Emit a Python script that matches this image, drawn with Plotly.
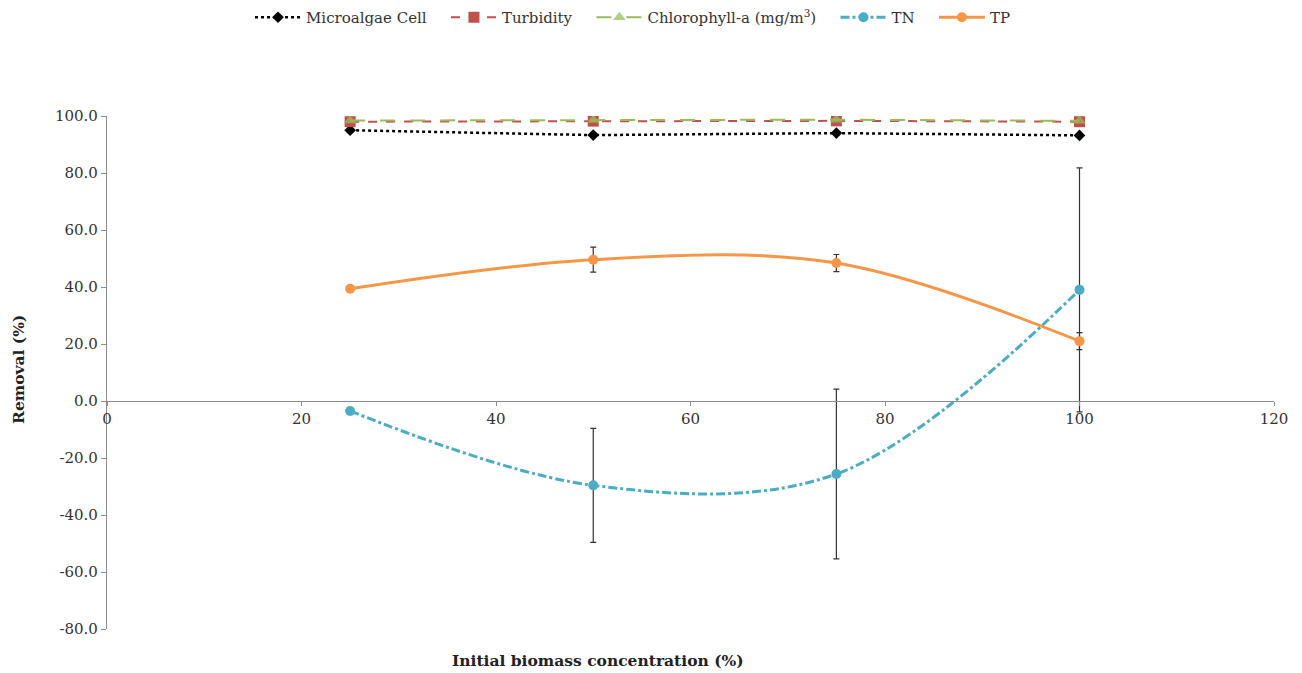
import plotly.graph_objects as go

# Initial biomass concentration (%)
biomass = [25, 50, 75, 100]

# Removal (%) per parameter
microalgae_cell = [95.0, 93.3, 94.0, 93.2]
turbidity = [98.0, 98.2, 98.3, 98.0]
chlorophyll_a = [98.4, 98.6, 98.7, 98.3]
tn = [-3.5, -29.6, -25.6, 39.0]
tn_err = [0.5, 20.0, 29.8, 42.8]
tp = [39.4, 49.6, 48.4, 21.0]
tp_err = [0.8, 4.4, 3.0, 3.0]

y_ticks = [-80, -60, -40, -20, 0, 20, 40, 60, 80, 100]
x_ticks = [0, 20, 40, 60, 80, 100, 120]

FONT = "DejaVu Serif"
PAD = "\u00a0" * 3  # extra spacing between legend entries

fig = go.Figure()

fig.add_trace(go.Scatter(
    x=biomass, y=microalgae_cell, name="Microalgae Cell" + PAD, mode="lines+markers",
    line=dict(color="#000000", width=2.5, dash="dot"),
    marker=dict(symbol="diamond", size=9, color="#000000"),
))
fig.add_trace(go.Scatter(
    x=biomass, y=turbidity, name="Turbidity" + PAD, mode="lines+markers",
    line=dict(color="#C0504D", width=2, dash="dash"),
    marker=dict(symbol="square", size=11, color="#C0504D"),
))
fig.add_trace(go.Scatter(
    x=biomass, y=chlorophyll_a, name="Chlorophyll-a (mg/m<sup>3</sup>)" + PAD, mode="lines+markers",
    line=dict(color="#9BBB59", width=2, dash="longdash"),
    marker=dict(symbol="triangle-up", size=11, color="rgba(155,187,89,0.75)"),
))
fig.add_trace(go.Scatter(
    x=biomass, y=tn, name="TN" + PAD, mode="lines+markers",
    line=dict(color="#4BACC6", width=3, dash="dashdot", shape="spline", smoothing=1.0),
    marker=dict(symbol="circle", size=10, color="#4BACC6"),
    error_y=dict(type="data", array=tn_err, color="#333333", thickness=1.2, width=3),
))
fig.add_trace(go.Scatter(
    x=biomass, y=tp, name="TP", mode="lines+markers",
    line=dict(color="#F79646", width=3, shape="spline", smoothing=1.0),
    marker=dict(symbol="circle", size=10, color="#F79646"),
    error_y=dict(type="data", array=tp_err, color="#333333", thickness=1.2, width=3),
))

fig.update_layout(
    width=1302, height=673,
    margin=dict(l=107, r=28, t=116, b=44, autoexpand=False),
    paper_bgcolor="white", plot_bgcolor="white",
    font=dict(family=FONT, size=15, color="#222222"),
    showlegend=True,
    legend=dict(
        orientation="h", x=(250 - 107) / 1167, xanchor="left",
        y=1 + (116 - 1) / 513, yanchor="top",
        font=dict(family=FONT, size=15, color="#333333"),
        itemwidth=46, tracegroupgap=0, bgcolor="rgba(0,0,0,0)",
    ),
    xaxis=dict(
        range=[0, 120], tickvals=x_ticks, ticktext=[str(v) for v in x_ticks],
        anchor="free", position=80 / 180,
        showline=True, linecolor="#8c8c8c", linewidth=1.2,
        ticks="outside", ticklen=4, tickcolor="#8c8c8c",
        showgrid=False, zeroline=False,
        tickfont=dict(family=FONT, size=15, color="#333333"),
    ),
    yaxis=dict(
        range=[-80, 100], tickvals=y_ticks, ticktext=[f"{v:.1f}" for v in y_ticks],
        showline=True, linecolor="#8c8c8c", linewidth=1.2,
        ticks="outside", ticklen=5, tickcolor="#8c8c8c",
        showgrid=False, zeroline=False,
        tickfont=dict(family=FONT, size=15, color="#333333"),
    ),
    annotations=[
        dict(text="<b>Initial biomass concentration (%)</b>", xref="paper", yref="paper",
             x=(598 - 107) / 1167, y=(629 - 660) / 513, xanchor="center", yanchor="middle",
             showarrow=False, font=dict(family=FONT, size=15.5, color="#222222")),
        dict(text="<b>Removal (%)</b>", xref="paper", yref="paper",
             x=(18 - 107) / 1167, y=(629 - 370) / 513, xanchor="center", yanchor="middle",
             textangle=-90, showarrow=False, font=dict(family=FONT, size=15.5, color="#222222")),
    ],
)

fig.write_html("out.html")
